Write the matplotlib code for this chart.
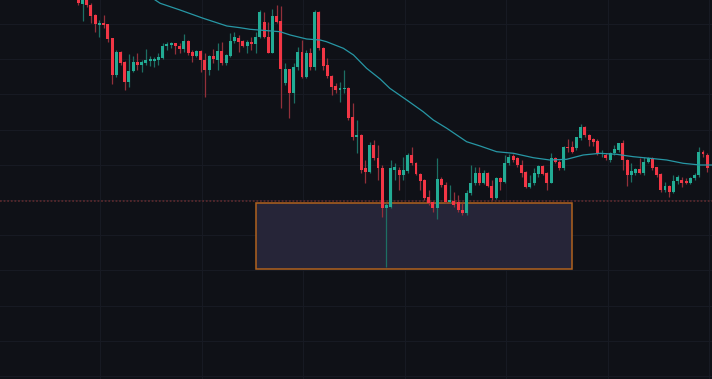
# Candlestick chart with moving average, a support line and a highlighted zone.
import numpy as np
import matplotlib
matplotlib.use("Agg")
import matplotlib.pyplot as plt
from matplotlib.patches import Rectangle

# OHLC values (one candle per slot)
opens = [404, 396, 402, 395, 385, 374.7, 377.3, 375.7, 361.7, 325,
         348.3, 338.3, 318.3, 329, 338.3, 335, 336.7, 339.3, 339.3, 340,
         341.7, 354, 355.3, 356.7, 354.3, 350.7, 359, 347.7, 344.3, 349,
         340, 330, 344.3, 340, 349, 337.3, 344, 359.3, 362.3, 359,
         354.3, 358.3, 356, 362.7, 378.3, 362.7, 347.3, 384.3, 379.3, 316.7,
         330.7, 307.3, 333.3, 348.3, 322.7, 347.3, 333.3, 387.7, 351.7, 335,
         324, 314, 310, 310.7, 312.3, 282.7, 262.7, 265, 231.7, 228.3,
         255, 241.7, 231.7, 191.7, 193.3, 230, 230, 225, 229.3, 245,
         237.3, 226, 220, 202.7, 198.3, 191.7, 220.7, 215, 198.3, 199.3,
         198.3, 190, 187.3, 206.7, 216.7, 227.3, 217.3, 227.3, 214, 201.7,
         221.7, 218.3, 236.7, 244, 241.7, 235, 228.3, 213.3, 216.7, 226,
         234, 226.7, 217.3, 241.7, 238.3, 231.7, 253.3, 253.3, 251.7, 261.7,
         273.3, 265, 260.7, 259.3, 245.7, 245, 240, 246.7, 250, 256.7,
         240, 225, 227.3, 230.7, 226.7, 238, 241.7, 232.7, 225.7, 210,
         214, 208.3, 219, 220, 219, 217.3, 221.7, 225, 248.3, 245]

closes = [396.7, 402, 394.7, 384.3, 375.7, 377.3, 374.7, 360.7, 325, 348.3,
          337.3, 317.7, 329.3, 338.3, 335, 337.7, 340, 341.3, 341, 342.7,
          354, 356, 356.7, 354, 350.7, 359, 346.7, 344.3, 349, 340,
          330, 344, 340.7, 349, 337.3, 345, 359.3, 362.7, 358.3, 354.3,
          358.3, 355.7, 362.7, 387.7, 362.7, 347.3, 384.3, 378.3, 330.7, 330.7,
          307.3, 333.3, 348.3, 322.7, 347.3, 333.3, 387.7, 351.7, 334, 324,
          313.3, 310, 312.3, 312.3, 281.7, 262.7, 265, 230, 228.3, 255,
          241.7, 231.7, 191.7, 195, 231.7, 232.7, 225, 230, 245, 237.3,
          226, 219.3, 201.7, 197.3, 191.7, 220.7, 215, 198.3, 200, 195,
          190, 187.3, 206.7, 216.7, 226.7, 216.7, 227.3, 214, 201.7, 221.7,
          218.3, 236.7, 243.3, 240, 235, 226.7, 213.3, 217.3, 226.7, 234,
          226, 217.3, 241.7, 238.3, 231.7, 253.3, 251.7, 248.3, 262.7, 273.3,
          265, 260, 258.3, 246.7, 247.3, 241.7, 247.3, 250.7, 256.7, 240,
          225, 229, 230.7, 226.7, 238.3, 241.7, 231.7, 225, 210, 214,
          208.3, 219, 223.3, 217.3, 217.3, 222.3, 225, 248.3, 245.7, 231.7]

highs = [408, 405, 404, 396.7, 386, 380, 385, 376.5, 362, 350,
         349, 339, 346, 344, 346.7, 340, 351, 344, 343.3, 346.7,
         357.3, 358.3, 358.3, 357.3, 356.7, 366, 360, 350, 350, 350,
         346.7, 345, 350.7, 356.7, 358.3, 346, 366.7, 367.7, 365, 360,
         360, 363.3, 368.3, 390, 388, 378.3, 390.7, 395, 394.3, 337,
         331, 337.3, 353.3, 360, 350, 351.7, 390, 389, 353.3, 341.7,
         325, 316.7, 318.3, 330, 313, 296.7, 280, 266, 240, 258.3,
         260, 255, 235, 197, 240, 236.7, 232.7, 242.7, 246.7, 253.3,
         238.3, 226.7, 221, 210, 199, 241.7, 223.3, 218.3, 215, 208.3,
         205, 196.7, 210, 235, 233.3, 232.7, 230, 228.3, 220, 223.3,
         223.3, 245, 246, 246, 243, 240, 229, 225, 231.7, 235,
         235, 228.3, 246.7, 243.3, 240, 254, 260.7, 259.3, 263.3, 276,
         274, 266, 261.7, 260.7, 250, 247.3, 248.3, 255, 257.3, 260,
         241, 236.7, 231.7, 241.7, 243.3, 243, 243.3, 233.3, 226.7, 218.3,
         215, 225, 225, 223.3, 221.7, 223.3, 226.7, 252.7, 250, 246.7]

lows = [395, 379.3, 393, 376.7, 368.3, 362.7, 371.7, 358.3, 315.7, 322.7,
        335, 310, 312.7, 328.3, 330, 328.3, 335, 334, 333.3, 335,
        340.7, 350, 351.7, 346, 347.3, 348.3, 345, 338.3, 343.3, 328.3,
        303.3, 325, 336.7, 330, 335, 335, 343.3, 356.7, 348.3, 353,
        346.7, 350, 346.7, 361.7, 361.7, 346.7, 346.7, 376.7, 291.7, 315,
        282, 296.7, 330, 321.7, 321.7, 330, 330, 350, 330, 321.7,
        305, 306.7, 298.3, 306.7, 280, 260, 246.7, 226.7, 216.7, 226.7,
        240, 220, 183.3, 133, 191.7, 220, 210, 220, 226.7, 235,
        225, 210, 200, 195, 188.3, 181, 213.3, 196.7, 196.7, 193.3,
        188.3, 185, 185, 205, 215, 215, 216, 213.3, 200, 200.7,
        210, 216.7, 235, 238.3, 233.3, 223.3, 211.7, 211.7, 215, 223.3,
        225, 210, 216.7, 236.7, 230, 230, 248.3, 246.7, 250, 260,
        263.3, 254, 254, 245, 243.3, 240, 238.3, 245, 248.3, 230,
        214, 218.3, 225, 226, 225, 236.7, 230, 223.3, 208.3, 208.3,
        202.7, 206.7, 216, 213.3, 216, 216, 220, 223.3, 243.3, 228.3]

# moving average, sampled along the candle axis
ma_pos = [17.5, 19.4, 24.1, 29.6, 35.2, 38.3, 40.7, 47.8, 50.2, 54.1, 57.3, 58.8,
          62.8, 65.2, 68.3, 71.5, 73.8, 77.8, 81.7, 84.1, 87.3, 92.0, 95.2, 99.1,
          103.1, 107.8, 111.7, 115.7, 119.6, 123.6, 127.5, 131.5, 135.4, 139.4,
          143.3, 147.3, 150.2]
ma_val = [402, 396.7, 390, 381.7, 374, 372.3, 370.7, 368.3, 365, 361, 360, 358.3,
          351.7, 345, 331.7, 321, 311.7, 300, 288.3, 280, 271.7, 258.3, 254, 248.3,
          246.7, 242.3, 240, 240.7, 245, 246.7, 245.7, 243.3, 241.7, 240,
          236.7, 235, 235]

# support level and zone
support_level = 199
zone_start, zone_end = 42, 117
zone_low, zone_high = 131, 197

bg = '#0f1117'
up_col, down_col = '#22ab94', '#f23645'
up_wick, down_wick = '#1d6f64', '#93303a'

o = np.array(opens)
c = np.array(closes)
h = np.array(highs)
l = np.array(lows)
x = np.arange(len(o))
up = c >= o

fig = plt.figure(figsize=(7.12, 3.79), dpi=100, facecolor=bg)
ax = fig.add_axes([0, 0, 1, 1], facecolor=bg)

# grid (very faint)
ax.set_xticks(np.arange(5.2, 151, 24.05))
ax.set_yticks(np.arange(24, 400, 35.2))
ax.grid(True, color='#181b24', lw=0.7)
ax.set_axisbelow(True)
ax.tick_params(length=0, labelleft=False, labelbottom=False)
for s in ax.spines.values():
    s.set_visible(False)

# zone and level
ax.add_patch(Rectangle((zone_start, zone_low), zone_end - zone_start, zone_high - zone_low,
                       facecolor='#262538', edgecolor='#b0621e', lw=1.1, zorder=1))
ax.axhline(support_level, color='#55282c', lw=1.3, ls=(0, (1, 1)), zorder=1)

# candles
ax.vlines(x, l, h, colors=np.where(up, up_wick, down_wick), lw=0.9, zorder=2)
body = np.maximum(np.abs(c - o), 1.2)
ax.bar(x, body, bottom=np.minimum(o, c), width=0.7,
       color=np.where(up, up_col, down_col), lw=0, zorder=3)

# moving average
ax.plot(ma_pos, ma_val, color='#2797a5', lw=0.9, zorder=4)

ax.set_xlim(-18.55, 150.13)
ax.set_ylim(21, 400)

fig.savefig('out.png', dpi=100, facecolor=bg)
